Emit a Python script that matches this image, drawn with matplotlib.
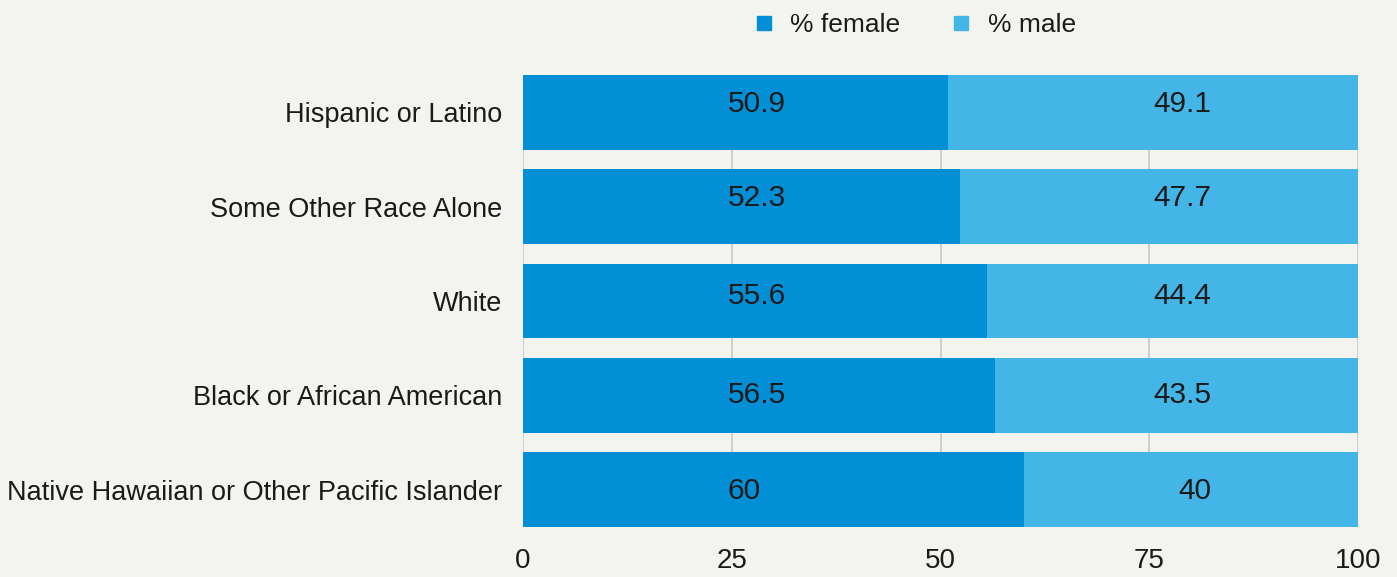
import numpy as np
import matplotlib
matplotlib.use("Agg")
import matplotlib.pyplot as plt
from matplotlib.lines import Line2D

# data (top to bottom as shown)
groups = ["Hispanic or Latino", "Some Other Race Alone", "White",
          "Black or African American", "Native Hawaiian or Other Pacific Islander"]
female = [50.9, 52.3, 55.6, 56.5, 60]
male = [49.1, 47.7, 44.4, 43.5, 40]
ticks = [0, 25, 50, 75, 100]

C_F, C_M = "#038fd6", "#43b5e6"
BG = "#f3f4ef"
TXT = "#1a1a1a"
plt.rcParams["font.family"] = ["Liberation Sans", "DejaVu Sans"]

fig = plt.figure(figsize=(13.97, 5.77), dpi=100, facecolor=BG)
ax = fig.add_axes([523 / 1397, 1 - 527 / 577, 835 / 1397, 452 / 577], facecolor=BG)

y = np.arange(len(groups))[::-1]
h = 0.795
ax.barh(y, female, height=h, color=C_F, zorder=2)
ax.barh(y, male, left=female, height=h, color=C_M, zorder=2)
ax.set_ylim(-h / 2, len(groups) - 1 + h / 2)
ax.set_xlim(0, 100)

# value labels (female left-anchored, male right-anchored, as in the original)
dy = [8, 9, 5, 0, -1]  # px upward shift seen in the reference
for yi, f, m, d in zip(y, female, male, dy):
    ax.annotate(f"{f:g}", (24.5, yi), xytext=(0, d * 0.72), textcoords="offset points",
                ha="left", va="center", fontsize=21.5, color=TXT, zorder=3)
    ax.annotate(f"{m:g}", (82.4, yi), xytext=(0, d * 0.72), textcoords="offset points",
                ha="right", va="center", fontsize=21.5, color=TXT, zorder=3)

ax.set_yticks(y)
ax.set_yticklabels(groups, fontsize=19.5, color=TXT)
ax.set_xticks(ticks)
ax.set_xticklabels([str(t) for t in ticks], fontsize=20, color=TXT)
ax.tick_params(length=0)
ax.tick_params(axis="y", pad=15)
ax.tick_params(axis="x", pad=15)
ax.grid(axis="x", color="#c8c8c8", lw=1.2, zorder=1)
for s in ax.spines.values():
    s.set_visible(False)

handles = [Line2D([], [], marker="s", ls="", ms=10, color=C_F, label="% female"),
           Line2D([], [], marker="s", ls="", ms=10, color=C_M, label="% male")]
fig.legend(handles=handles, loc="upper center", bbox_to_anchor=(0.649, 1.018), ncol=2,
           frameon=False, fontsize=19, handletextpad=0.0, columnspacing=1.3,
           labelcolor=TXT)

fig.savefig("out.png", dpi=100, facecolor=BG)
